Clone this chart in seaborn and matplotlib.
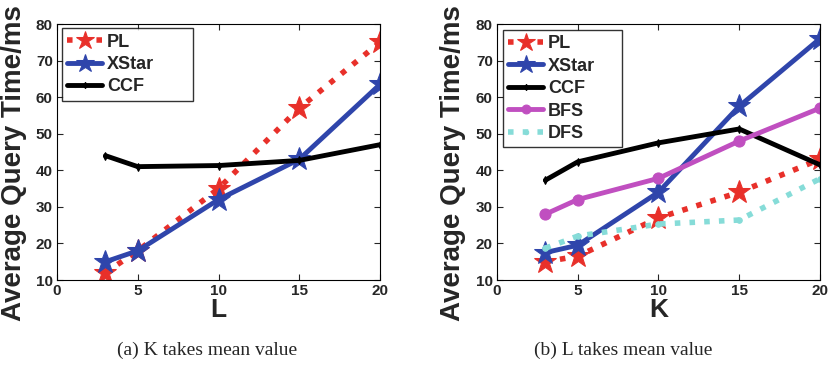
import matplotlib
matplotlib.use("Agg")
import matplotlib.pyplot as plt
import seaborn as sns
import pandas as pd

# values
x_vals = [3, 5, 10, 15, 20]

# (a) K takes mean value, x = L
a_pl = [12, 18, 35, 57, 75]
a_xstar = [15, 18, 32, 43, 63.5]
a_ccf = [44, 41, 41.3, 42.7, 47]

# (b) L takes mean value, x = K
b_pl = [15, 16.5, 27, 34, 43]
b_xstar = [17.5, 19.5, 34, 57.5, 76]
b_ccf = [37.3, 42.3, 47.5, 51.3, 41.5]
b_bfs = [28, 32, 37.8, 48, 57]
b_dfs = [18.7, 22, 25.3, 26.4, 37.7]

x_ticks = [0, 5, 10, 15, 20]
y_ticks = [10, 20, 30, 40, 50, 60, 70, 80]

sns.set_style("ticks")
plt.rcParams["font.family"] = ["Liberation Sans", "DejaVu Sans"]
plt.rcParams["font.weight"] = "bold"

styles = {
    "PL": dict(color="#e8302a", marker="*", linestyle=":", markersize=17, linewidth=4),
    "XStar": dict(color="#2f45ab", marker="*", linestyle="-", markersize=17, linewidth=3.5),
    "CCF": dict(color="black", marker="d", linestyle="-", markersize=4, linewidth=3.5),
    "BFS": dict(color="#c04fc0", marker="o", linestyle="-", markersize=8, linewidth=3.5),
    "DFS": dict(color="#86dcd8", marker="o", linestyle=":", markersize=4, linewidth=4),
}

fig = plt.figure(figsize=(8.31, 3.75), dpi=100)
ax_a = fig.add_axes([0.0686, 0.2533, 0.3887, 0.6827])
ax_b = fig.add_axes([0.598, 0.2533, 0.3887, 0.6827])

panel_a = {"PL": a_pl, "XStar": a_xstar, "CCF": a_ccf}
panel_b = {"PL": b_pl, "XStar": b_xstar, "CCF": b_ccf, "BFS": b_bfs, "DFS": b_dfs}

# legend boxes (axes fraction): x0, width, top
leg_boxes = {"L": (0.0155, 0.405, 0.984), "K": (0.0186, 0.37, 0.977)}

for ax, series, xlab in [(ax_a, panel_a, "L"), (ax_b, panel_b, "K")]:
    for name, vals in series.items():
        df = pd.DataFrame({"x": x_vals, "y": vals})
        st = styles[name]
        sns.lineplot(data=df, x="x", y="y", ax=ax, label=name,
                     color=st["color"], marker=st["marker"], linestyle=st["linestyle"],
                     markersize=st["markersize"], linewidth=st["linewidth"],
                     markeredgecolor=st["color"])
    ax.set_xlim(0, 20)
    ax.set_ylim(10, 80)
    ax.set_xticks(x_ticks)
    ax.set_yticks(y_ticks)
    ax.tick_params(direction="in", top=True, right=True, labelsize=11, length=4,
                   width=0.8, pad=3)
    for lbl in ax.get_xticklabels() + ax.get_yticklabels():
        lbl.set_fontweight("bold")
    for sp in ax.spines.values():
        sp.set_visible(True)
        sp.set_linewidth(0.8)
        sp.set_color("black")
    ax.set_xlabel(xlab, fontsize=19, fontweight="bold", labelpad=0)
    ax.set_ylabel("")
    x0, w, top = leg_boxes[xlab]
    leg = ax.legend(loc="upper left", bbox_to_anchor=(x0, 0.0, w, top), mode="expand",
                    fontsize=13, frameon=True, fancybox=False, markerscale=0.8,
                    edgecolor="black", handlelength=1.9, borderpad=0.3,
                    labelspacing=0.3, handletextpad=0.3, borderaxespad=0.0)
    leg.get_frame().set_linewidth(1.0)
    for t in leg.get_texts():
        t.set_fontweight("bold")

for xpos in [14 / 831, 453 / 831]:
    fig.text(xpos, 1 - 163 / 375, "Average Query Time/ms", rotation=90,
             ha="center", va="center", fontsize=20, fontweight="bold")

fig.text(207 / 831, 1 - 350 / 375, "(a) K takes mean value", ha="center", va="center",
         fontsize=14, family=["Liberation Serif", "DejaVu Serif"], fontweight="normal")
fig.text(623 / 831, 1 - 350 / 375, "(b) L takes mean value", ha="center", va="center",
         fontsize=14, family=["Liberation Serif", "DejaVu Serif"], fontweight="normal")

fig.savefig("out.png", dpi=100)
